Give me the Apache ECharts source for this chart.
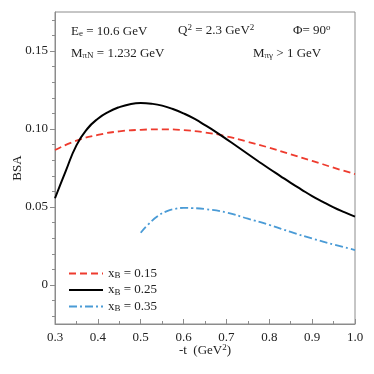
<!DOCTYPE html>
<html><head><meta charset="utf-8">
<script src="https://cdn.jsdelivr.net/npm/echarts@6/dist/echarts.min.js"></script>
<style>html,body{margin:0;padding:0;background:#fff}#c{width:374px;height:374px}</style>
</head><body><div id="c"></div>
<script>
const tRed = [0.30,0.35,0.40,0.45,0.50,0.55,0.60,0.65,0.70,0.75,0.80,0.85,0.90,0.95,1.00];
const bsaRed = [0.0865,0.0925,0.0962,0.0985,0.0995,0.0998,0.0993,0.0978,0.0953,0.0918,0.0880,0.0838,0.0796,0.0752,0.0711];
const tBlack = [0.30,0.325,0.35,0.375,0.40,0.425,0.45,0.475,0.50,0.525,0.55,0.575,0.60,0.625,0.65,0.675,0.70,0.725,0.75,0.775,0.80,0.825,0.85,0.875,0.90,0.925,0.95,0.975,1.00];
const bsaBlack = [0.0556,0.0730,0.0895,0.1000,0.1066,0.1110,0.1140,0.1159,0.1166,0.1162,0.1150,0.1128,0.1100,0.1066,0.1025,0.0982,0.0935,0.0888,0.0840,0.0792,0.0745,0.0700,0.0655,0.0612,0.0570,0.0533,0.0498,0.0467,0.0438];
const tBlue = [0.50,0.52,0.54,0.56,0.58,0.60,0.62,0.65,0.70,0.75,0.80,0.85,0.90,0.95,1.00];
const bsaBlue = [0.0335,0.0395,0.0442,0.0472,0.0488,0.0494,0.0493,0.0487,0.0465,0.0425,0.0385,0.0340,0.0298,0.0260,0.0224];
const seriesNames = ['xB = 0.15','xB = 0.25','xB = 0.35'];
const legendValues = ['0.15','0.25','0.35'];
const yMajor = [0, 0.05, 0.10, 0.15];
const yMinor = [-0.02,-0.01,0.01,0.02,0.03,0.04,0.06,0.07,0.08,0.09,0.11,0.12,0.13,0.14,0.16,0.17];

const F = 'Liberation Serif';
const zip = (a,b) => a.map((v,i)=>[v,b[i]]);
const chart = echarts.init(document.getElementById('c'));
const axisColor = '#8c8c8c';
chart.setOption({
  animation:false,
  grid:{left:55,right:19,top:12,bottom:50,show:true,borderColor:axisColor,borderWidth:1,containLabel:false,outerBoundsMode:'none'},
  xAxis:{type:'value',min:0.3,max:1.0,interval:0.1,
    name:'{a|-t  (GeV}{s|2}{a|)}',nameLocation:'middle',nameGap:19,nameMoveOverlap:false,
    nameTextStyle:{rich:{a:{fontFamily:F,fontSize:13,color:'#222'},s:{fontFamily:F,fontSize:9,color:'#222',verticalAlign:'top',padding:[0,0,6,0]}}},
    axisLine:{onZero:false,lineStyle:{color:axisColor}},
    axisTick:{inside:true,length:5,lineStyle:{color:axisColor}},
    minorTick:{show:true,splitNumber:2,length:3,lineStyle:{color:axisColor}},
    axisLabel:{fontFamily:F,fontSize:13,color:'#222',margin:7,formatter:v=>v.toFixed(1)},
    splitLine:{show:false}},
  yAxis:[{type:'value',min:-0.025,max:0.175,
    name:'BSA',nameLocation:'middle',nameGap:31,nameRotate:90,nameMoveOverlap:false,
    nameTextStyle:{fontFamily:F,fontSize:13,color:'#222'},
    axisLine:{show:true,onZero:false,lineStyle:{color:axisColor}},
    axisTick:{show:true,length:5,customValues:yMajor,lineStyle:{color:axisColor}},
    axisLabel:{fontFamily:F,fontSize:13,color:'#222',margin:7,customValues:yMajor,formatter:v=>Math.abs(v)<1e-9?'0':v.toFixed(2)},
    splitLine:{show:false}},
   {type:'value',min:-0.025,max:0.175,position:'left',
    axisLine:{show:false,onZero:false},
    axisTick:{show:true,length:3,customValues:yMinor,lineStyle:{color:axisColor}},
    axisLabel:{show:false},splitLine:{show:false}}],
  legend:{orient:'vertical',left:68,top:267,itemWidth:34,itemHeight:10,itemGap:3,padding:0,
    data:seriesNames,itemStyle:{opacity:0},
    formatter:n=>'{a|x}{b|B}{a| = '+legendValues[seriesNames.indexOf(n)]+'}',
    textStyle:{rich:{a:{fontFamily:F,fontSize:13,color:'#222'},b:{fontFamily:F,fontSize:9,color:'#222',verticalAlign:'bottom',padding:[5,0,0,0]}}}},
  series:[
    {name:seriesNames[0],type:'line',smooth:true,symbol:'none',data:zip(tRed,bsaRed),
     itemStyle:{color:'#ee3b2e'},lineStyle:{color:'#ee3b2e',width:1.8,type:[7,4]}},
    {name:seriesNames[1],type:'line',smooth:true,symbol:'none',data:zip(tBlack,bsaBlack),
     itemStyle:{color:'#000'},lineStyle:{color:'#000',width:2}},
    {name:seriesNames[2],type:'line',smooth:true,symbol:'none',data:zip(tBlue,bsaBlue),
     itemStyle:{color:'#4a9bd6'},lineStyle:{color:'#4a9bd6',width:1.8,type:[8,3,2,3]}}
  ],
  graphic:[
    {type:'text',left:71,top:25,style:{rich:{a:{fontFamily:F,fontSize:13,fill:'#222'},s:{fontFamily:F,fontSize:9,fill:'#222',verticalAlign:'bottom',padding:[4,0,0,0]}},text:'{a|E}{s|e}{a| = 10.6 GeV}'}},
    {type:'text',left:178,top:23,style:{rich:{a:{fontFamily:F,fontSize:13,fill:'#222'},s:{fontFamily:F,fontSize:9,fill:'#222',verticalAlign:'top',padding:[0,0,6,0]}},text:'{a|Q}{s|2}{a| = 2.3 GeV}{s|2}'}},
    {type:'text',left:293,top:23,style:{rich:{a:{fontFamily:F,fontSize:13,fill:'#222'},s:{fontFamily:F,fontSize:9,fill:'#222',verticalAlign:'top',padding:[0,0,6,0]}},text:'{a|Φ= 90}{s|o}'}},
    {type:'text',left:71,top:47,style:{rich:{a:{fontFamily:F,fontSize:13,fill:'#222'},s:{fontFamily:F,fontSize:9,fill:'#222',verticalAlign:'bottom',padding:[4,0,0,0]}},text:'{a|M}{s|πN}{a| = 1.232 GeV}'}},
    {type:'text',left:253,top:47,style:{rich:{a:{fontFamily:F,fontSize:13,fill:'#222'},s:{fontFamily:F,fontSize:9,fill:'#222',verticalAlign:'bottom',padding:[4,0,0,0]}},text:'{a|M}{s|πγ}{a| > 1 GeV}'}}
  ]
});
</script></body></html>
